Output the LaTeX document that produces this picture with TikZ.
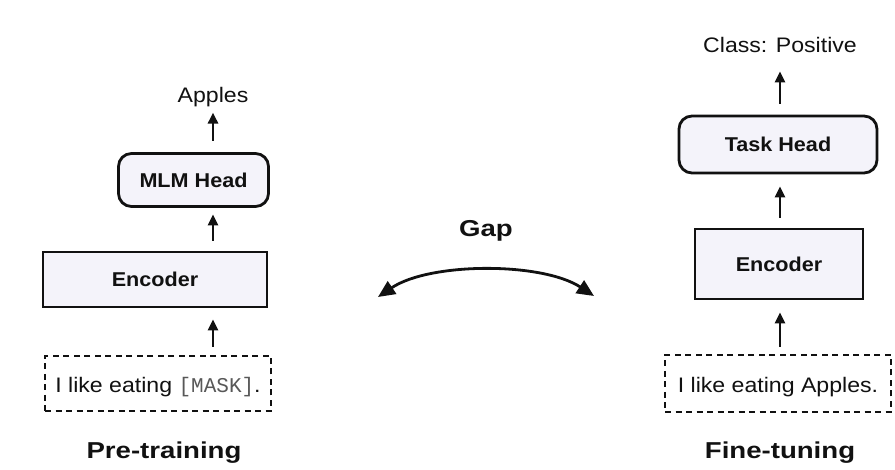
\documentclass[tikz,border=0pt]{standalone}
\usepackage{fontspec}
\setmainfont[FakeStretch=1.1]{Liberation Sans}
\newfontfamily\medfont[FakeStretch=1.08]{Liberation Sans}
\newfontfamily\headfont[FakeStretch=1.2]{Liberation Sans}
\newfontfamily\maskfont{Liberation Mono}
\usetikzlibrary{arrows.meta}
\definecolor{boxfill}{RGB}{244,243,250}
\definecolor{ink}{RGB}{17,17,17}
\begin{document}
\begin{tikzpicture}[x=1pt,y=-1pt,
  box/.style={draw=ink, line width=2.8pt, fill=boxfill, inner sep=0pt, text=ink,
    font=\medfont\bfseries\fontsize{20}{24}\selectfont},
  roundbox/.style={box, rounded corners=13pt},
  inbox/.style={draw=ink, line width=2.4pt, dash pattern=on 6pt off 4.5pt, inner sep=0pt,
    fill=white, text=ink, text height=18pt, text depth=0pt, font=\fontsize{21}{25}\selectfont},
  lbl/.style={inner sep=0pt, anchor=base, text=ink, font=\fontsize{21}{25}\selectfont},
  head/.style={inner sep=0pt, anchor=base, text=ink, font=\headfont\bfseries\fontsize{23}{28}\selectfont},
  up/.style={-{Triangle[length=11pt,width=10pt]}, line width=2.6pt, draw=ink},
  gaparrow/.style={{Triangle[length=17pt,width=15pt]}-{Triangle[length=17pt,width=15pt]}, line width=2.8pt, draw=ink}
]
\useasboundingbox (0,0) rectangle (895,470);
\fill[white] (0,0) rectangle (895,470);

% ---------- Pre-training ----------
\node[lbl] (apples) at (213,103) {Apples};
\node[roundbox, minimum width=150pt, minimum height=53pt] (mlm) at (193.5,180) {MLM Head};
\node[box, minimum width=224pt, minimum height=55pt] (encL) at (155,279.5) {Encoder};
\node[inbox, minimum width=226pt, minimum height=55pt] (inL) at (158,383.5)
  {I like eating {\color{ink!70}\maskfont[MASK]}.};
\node[head] (pre) at (164,459) {Pre-training};

\draw[up, shorten <=11.5pt, shorten >=5pt] (mlm.north -| apples) -- (apples.south);
\draw[up, shorten <=10pt, shorten >=6.5pt] (encL.north -| apples) -- (mlm.south -| apples);
\draw[up, shorten <=8pt, shorten >=11pt] (inL.north -| apples) -- (encL.south -| apples);

% ---------- Fine-tuning ----------
\node[lbl] (cls) at (780,53) {Class: Positive};
\node[roundbox, minimum width=198pt, minimum height=57pt] (task) at (778,144.5) {Task Head};
\node[box, minimum width=168pt, minimum height=70pt] (encR) at (779,264) {Encoder};
\node[inbox, minimum width=226pt, minimum height=57pt] (inR) at (778,383.5) {I like eating Apples.};
\node[head] (fine) at (780,459) {Fine-tuning};

\draw[up, shorten <=11pt, shorten >=18pt] (task.north -| cls) -- (cls.south);
\draw[up, shorten <=10pt, shorten >=12pt] (encR.north -| cls) -- (task.south -| cls);
\draw[up, shorten <=7pt, shorten >=12pt] (inR.north -| cls) -- (encR.south -| cls);

% ---------- Gap ----------
\node[head] (gap) at (486,237) {Gap};
\coordinate (gl) at (378,297);
\coordinate (gr) at (594,296);
\draw[gaparrow] (gl) .. controls (430,262) and (542,262) .. (gr);
\end{tikzpicture}
\end{document}
